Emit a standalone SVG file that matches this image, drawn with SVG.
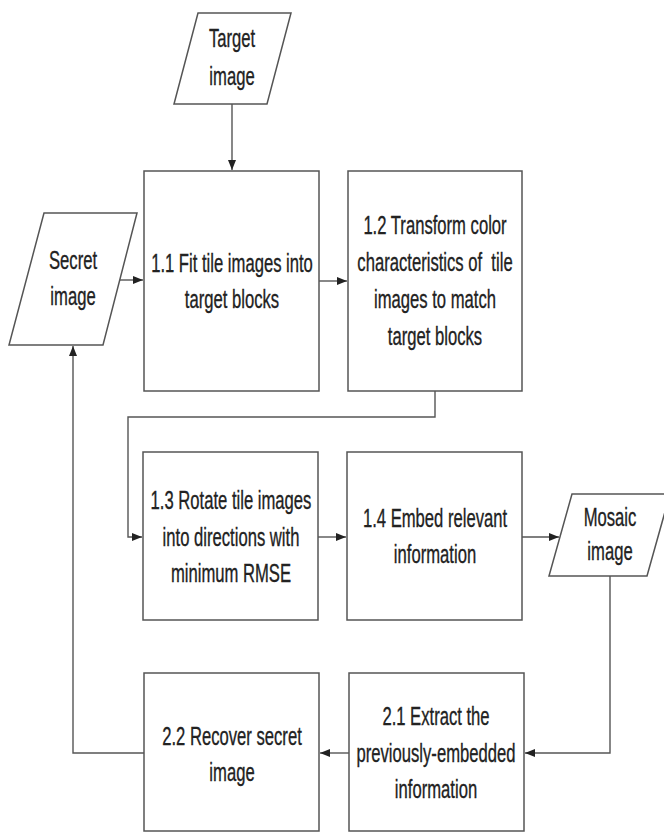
<svg xmlns="http://www.w3.org/2000/svg" width="664" height="832" viewBox="0 0 664 832">
<style>
.shape{fill:#fff;stroke:#555;stroke-width:1.5}
.conn{fill:none;stroke:#555;stroke-width:1.4}
.lbl{font-family:"Liberation Sans",Arial,sans-serif;font-size:26px;fill:#222;stroke:#222;stroke-width:0.35;text-anchor:middle}
</style>
<defs>
<marker id="arr" viewBox="0 0 10 8" refX="10" refY="4" markerWidth="10" markerHeight="8" markerUnits="userSpaceOnUse" orient="auto">
<path d="M0,0 L10,4 L0,8 Z" fill="#222"/>
</marker>
</defs>
<rect width="664" height="832" fill="#fff"/>
<g id="connectors">
<line class="conn" x1="232" y1="104" x2="232" y2="170" marker-end="url(#arr)"/>
<line class="conn" x1="120" y1="280" x2="143" y2="280" marker-end="url(#arr)"/>
<line class="conn" x1="319" y1="281" x2="347" y2="281" marker-end="url(#arr)"/>
<polyline class="conn" points="435,391 435,417 128,417 128,537 142,537" marker-end="url(#arr)"/>
<line class="conn" x1="318" y1="537" x2="346" y2="537" marker-end="url(#arr)"/>
<line class="conn" x1="522" y1="537" x2="559" y2="537" marker-end="url(#arr)"/>
<polyline class="conn" points="610,576 610,753 525,753" marker-end="url(#arr)"/>
<line class="conn" x1="349" y1="753" x2="320" y2="753" marker-end="url(#arr)"/>
<polyline class="conn" points="144,753 73,753 73,346" marker-end="url(#arr)"/>
</g>
<g id="target">
<polygon class="shape" points="198,13 291,13 267,104 174,104"/>
<g transform="translate(232,0) scale(0.64,1)"><text class="lbl"><tspan x="0" y="47">Target</tspan><tspan x="0" y="85">image</tspan></text></g>
</g>
<g id="secret">
<polygon class="shape" points="44,213 137,213 103,345 9,345"/>
<g transform="translate(73,0) scale(0.64,1)"><text class="lbl"><tspan x="0" y="269">Secret</tspan><tspan x="0" y="305">image</tspan></text></g>
</g>
<g id="mosaic">
<polygon class="shape" points="572,494 670,494 647,576 549,576"/>
<g transform="translate(610,0) scale(0.64,1)"><text class="lbl"><tspan x="0" y="526">Mosaic</tspan><tspan x="0" y="560">image</tspan></text></g>
</g>
<g id="n11">
<rect class="shape" x="144" y="171" width="175" height="220"/>
<g transform="translate(232,0) scale(0.64,1)"><text class="lbl"><tspan x="0" y="272">1.1 Fit tile images into</tspan><tspan x="0" y="308">target blocks</tspan></text></g>
</g>
<g id="n12">
<rect class="shape" x="348" y="171" width="174" height="220"/>
<g transform="translate(435,0) scale(0.64,1)"><text class="lbl" xml:space="preserve" style="white-space:pre"><tspan x="0" y="234">1.2 Transform color</tspan><tspan x="0" y="271">characteristics of  tile</tspan><tspan x="0" y="308">images to match</tspan><tspan x="0" y="345">target blocks</tspan></text></g>
</g>
<g id="n13">
<rect class="shape" x="143" y="452" width="175" height="168"/>
<g transform="translate(231,0) scale(0.64,1)"><text class="lbl"><tspan x="0" y="509">1.3 Rotate tile images</tspan><tspan x="0" y="546">into directions with</tspan><tspan x="0" y="582">minimum RMSE</tspan></text></g>
</g>
<g id="n14">
<rect class="shape" x="347" y="452" width="175" height="168"/>
<g transform="translate(435,0) scale(0.64,1)"><text class="lbl"><tspan x="0" y="527">1.4 Embed relevant</tspan><tspan x="0" y="563">information</tspan></text></g>
</g>
<g id="n21">
<rect class="shape" x="349" y="673" width="175" height="158"/>
<g transform="translate(436,0) scale(0.64,1)"><text class="lbl"><tspan x="0" y="725">2.1 Extract the</tspan><tspan x="0" y="762">previously-embedded</tspan><tspan x="0" y="798">information</tspan></text></g>
</g>
<g id="n22">
<rect class="shape" x="144" y="673" width="175" height="158"/>
<g transform="translate(232,0) scale(0.64,1)"><text class="lbl"><tspan x="0" y="745">2.2 Recover secret</tspan><tspan x="0" y="781">image</tspan></text></g>
</g>
</svg>
